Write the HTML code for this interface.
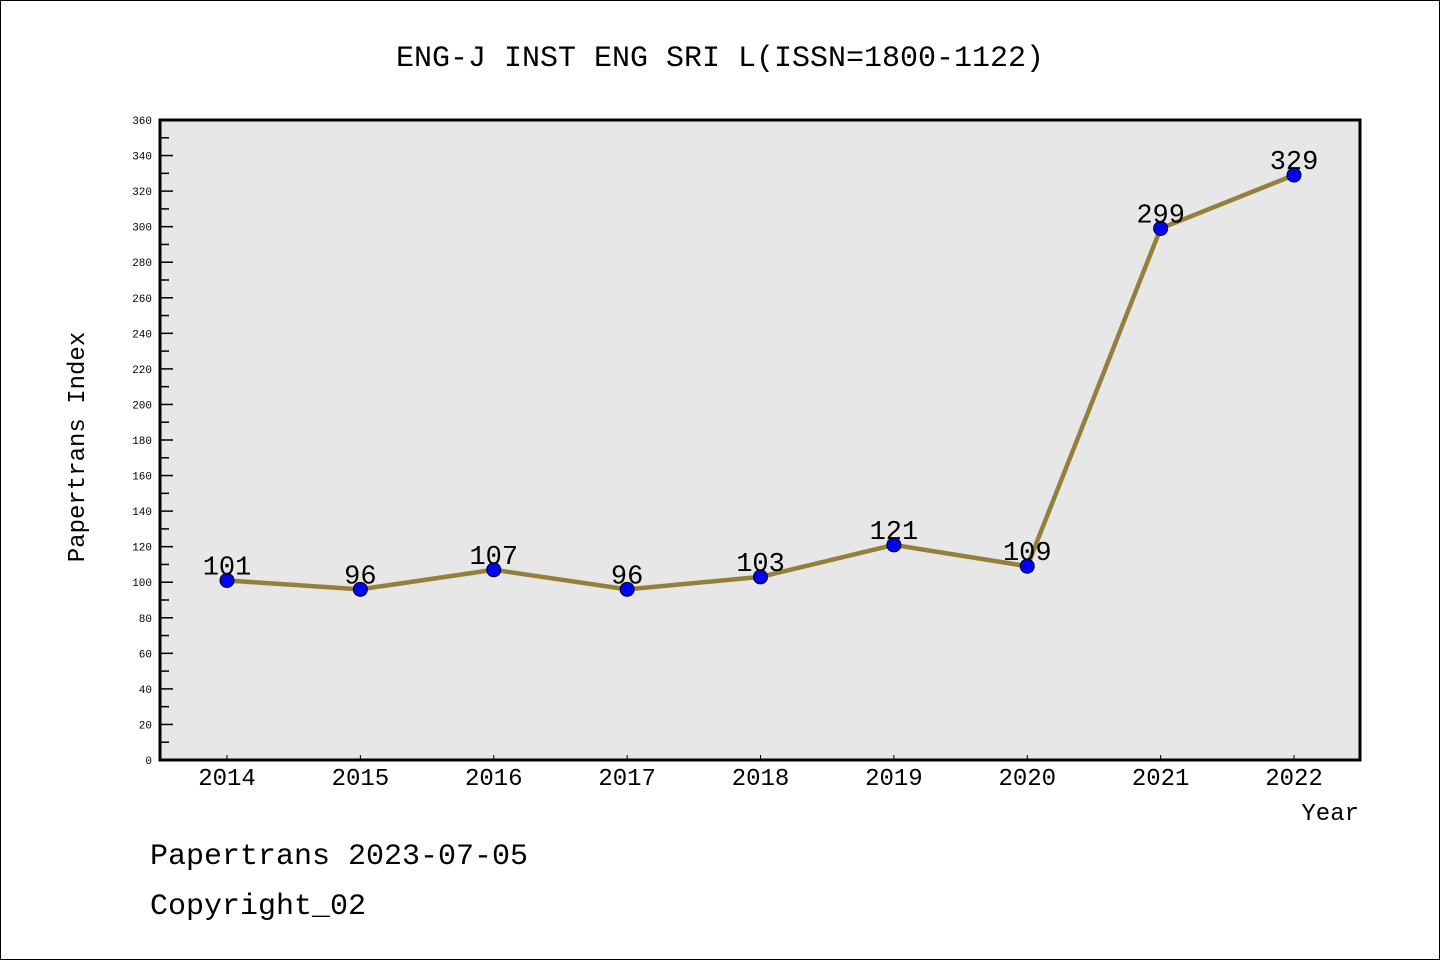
<!DOCTYPE html>
<html><head><meta charset="utf-8"><style>
body{margin:0;background:#fff}
svg{display:block}
text{font-family:"Liberation Mono","WenQuanYi Zen Hei",monospace}
</style></head><body>
<svg id="c" width="1440" height="960" xmlns="http://www.w3.org/2000/svg">
<rect x="0.5" y="0.5" width="1439" height="959" fill="#fff" stroke="#000"/>
<text x="720" y="66" font-size="30" text-anchor="middle">ENG-J INST ENG SRI L(ISSN=1800-1122)</text>
<rect x="160" y="120" width="1200" height="640" fill="#e7e7e7"/>
<g id="axes"></g>
<g id="marks"></g>
<rect x="160" y="120" width="1200" height="640" fill="none" stroke="#000" stroke-width="3"/>
<text transform="translate(84,447) rotate(-90)" font-size="24" text-anchor="middle">Papertrans Index</text>
<text x="1359" y="820" font-size="24" text-anchor="end">Year</text>
<text x="150" y="864" font-size="30">Papertrans 2023-07-05</text>
<text x="150" y="914" font-size="30">Copyright_02</text>
</svg>
<script>
const years=["2014","2015","2016","2017","2018","2019","2020","2021","2022"];
const values=[101,96,107,96,103,121,109,299,329];
const yTicks=[0,20,40,60,80,100,120,140,160,180,200,220,240,260,280,300,320,340,360];
const NS="http://www.w3.org/2000/svg";
const y=v=>760-v*640/360;
const x=i=>227+i*(1294-227)/8;
function mk(t,a,p){const e=document.createElementNS(NS,t);for(const k in a)e.setAttribute(k,a[k]);p.appendChild(e);return e;}
const ax=document.getElementById('axes'),mg=document.getElementById('marks');
yTicks.forEach(v=>{
 const l=mk('line',{x1:160,x2:173,y1:y(v),y2:y(v),stroke:'#000','stroke-width':1.5},ax);
 
 
 if(v<360){const m=mk('line',{x1:160,x2:169,y1:y(v+10),y2:y(v+10),stroke:'#000','stroke-width':1.5},ax);
 
 }
 const t=mk('text',{x:152,y:y(v)+4,'font-size':11,'text-anchor':'end'},ax);t.textContent=v;
 
 
});
years.forEach((yr,i)=>{
 const l=mk('line',{x1:x(i),x2:x(i),y1:760,y2:755,stroke:'#000','stroke-width':1},ax);
 
 
 const t=mk('text',{x:x(i),y:785,'font-size':24,'text-anchor':'middle'},ax);t.textContent=yr;
 
 
});
const pl=mk('polyline',{points:values.map((v,i)=>x(i)+','+y(v)).join(' '),fill:'none',stroke:'#94803a','stroke-width':4.5},mg);


values.forEach((v,i)=>{
 const c=mk('circle',{cx:x(i),cy:y(v),r:7,fill:'#0000ff',stroke:'#000','stroke-width':1},mg);
 
 
 const t=mk('text',{x:x(i),y:y(v)-6,'font-size':27,'text-anchor':'middle'},mg);t.textContent=v;
 
 
});
</script>
</body></html>
